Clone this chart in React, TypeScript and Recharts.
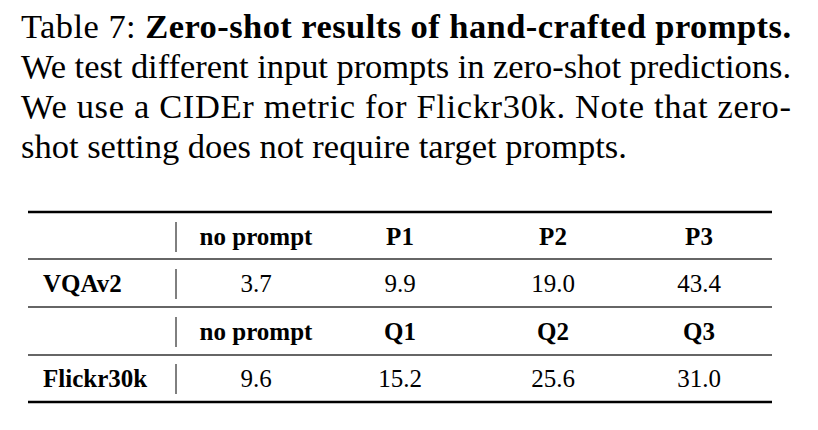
import React from 'react';
import { Surface, Text } from 'recharts';

const captionLines = [
  'We test different input prompts in zero-shot predictions.',
  'We use a CIDEr metric for Flickr30k.  Note that zero-',
  'shot setting does not require target prompts.',
];
const vqaHeader = ['no prompt', 'P1', 'P2', 'P3'];
const vqaValues = ['3.7', '9.9', '19.0', '43.4'];
const flickrHeader = ['no prompt', 'Q1', 'Q2', 'Q3'];
const flickrValues = ['9.6', '15.2', '25.6', '31.0'];
const rowLabels = ['VQAv2', 'Flickr30k'];

const colX = [256, 400, 553, 699];
const rowY = [236, 283, 331, 378];
const FONT = '"Liberation Serif", "Times New Roman", serif';

export default function App() {
  const rows = [
    { label: '', cells: vqaHeader, bold: true },
    { label: rowLabels[0], cells: vqaValues, bold: false },
    { label: '', cells: flickrHeader, bold: true },
    { label: rowLabels[1], cells: flickrValues, bold: false },
  ];
  return (
    <div style={{ width: 818, height: 430, margin: -8, background: '#fff' }}>
      <Surface width={818} height={430}>
        <text x={21} y={38} fontFamily={FONT} fontSize={34.5} fill="#000" textLength={770} lengthAdjust="spacing">
          Table 7: <tspan fontWeight="bold">Zero-shot results of hand-crafted prompts.</tspan>
        </text>
        {captionLines.map((l, i) => (
          <text key={i} x={21} y={78 + i * 40} fontFamily={FONT} fontSize={34.5} fill="#000"
            textLength={i < 2 ? 770 : undefined} lengthAdjust="spacing">
            {l}
          </text>
        ))}
        <line x1={28} x2={772} y1={212} y2={212} stroke="#000" strokeWidth={2.5} />
        <line x1={28} x2={772} y1={259} y2={259} stroke="#333" strokeWidth={1.5} />
        <line x1={28} x2={772} y1={307} y2={307} stroke="#333" strokeWidth={1.5} />
        <line x1={28} x2={772} y1={355} y2={355} stroke="#333" strokeWidth={1.5} />
        <line x1={28} x2={772} y1={402} y2={402} stroke="#000" strokeWidth={2.5} />
        {rowY.map((y, i) => (
          <line key={i} x1={176} x2={176} y1={y - 14} y2={y + 16} stroke="#000" strokeWidth={1} />
        ))}
        {rows.map((r, ri) => (
          <g key={ri}>
            {r.label && (
              <Text x={43} y={rowY[ri]} verticalAnchor="middle" fontFamily={FONT} fontSize={25}
                fontWeight="bold" fill="#000">{r.label}</Text>
            )}
            {r.cells.map((c, ci) => (
              <Text key={ci} x={colX[ci]} y={rowY[ri]} textAnchor="middle" verticalAnchor="middle"
                fontFamily={FONT} fontSize={25} fontWeight={r.bold ? 'bold' : 'normal'} fill="#000">{c}</Text>
            ))}
          </g>
        ))}
      </Surface>
    </div>
  );
}
